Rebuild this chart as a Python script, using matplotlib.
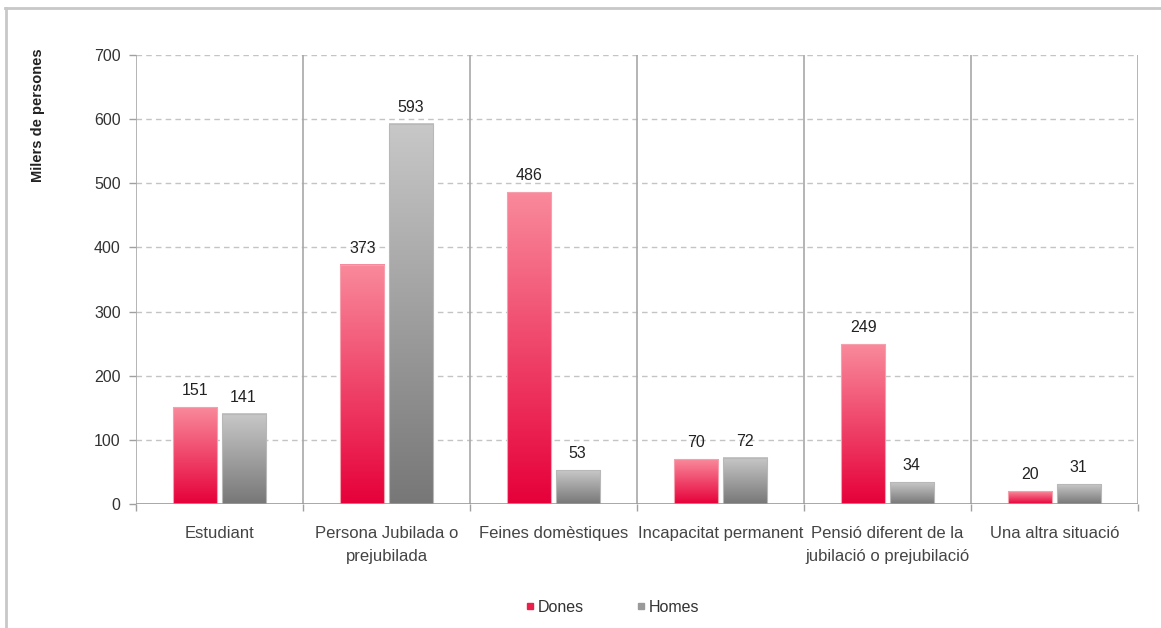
import numpy as np
import matplotlib
matplotlib.use("Agg")
import matplotlib.pyplot as plt
from matplotlib.colors import LinearSegmentedColormap
from matplotlib.lines import Line2D

plt.rcParams['font.family'] = ['Liberation Sans Narrow', 'Liberation Sans', 'DejaVu Sans']

categories = ["Estudiant", "Persona Jubilada o\nprejubilada", "Feines domèstiques",
              "Incapacitat permanent", "Pensió diferent de la\njubilació o prejubilació",
              "Una altra situació"]
dones = [151, 373, 486, 70, 249, 20]
homes = [141, 593, 53, 72, 34, 31]
series_names = ["Dones", "Homes"]
yticks = [0, 100, 200, 300, 400, 500, 600, 700]

fig = plt.figure(figsize=(11.61, 6.28), dpi=100)
ax = fig.add_axes([136/1161, 1 - 504/628, (1138 - 136)/1161, (504 - 55)/628])

cmap_d = LinearSegmentedColormap.from_list("d", ["#e6003a", "#f98a9b"])
cmap_h = LinearSegmentedColormap.from_list("h", ["#777777", "#c8c8c8"])
grad = np.linspace(0, 1, 256).reshape(-1, 1)

x = np.arange(len(categories))
w = 0.264
off = 0.144

for vals, dx, cmap, edge in [(dones, -off, cmap_d, "#f7a0ad"), (homes, off, cmap_h, "#b8b8b8")]:
    for xi, v in zip(x, vals):
        x0, x1 = xi + dx - w/2, xi + dx + w/2
        ax.imshow(grad, extent=[x0, x1, 0, v], origin="lower", cmap=cmap,
                  aspect="auto", zorder=3, interpolation="bilinear")
        ax.add_patch(plt.Rectangle((x0, 0), w, v, fill=False, edgecolor=edge,
                                   linewidth=0.8, zorder=4))
        ax.text(xi + dx, v + 14, str(v), ha="center", va="bottom",
                fontsize=11.5, color="#222222", zorder=5)

ax.set_xlim(-0.5, len(categories) - 0.5)
ax.set_ylim(0, 700)

# dashed horizontal grid
for yv in yticks[1:]:
    ax.axhline(yv, color="#c4c4c4", linestyle=(0, (4, 3)), linewidth=1.0, zorder=1)

# category separators
for b in np.arange(-0.5, len(categories), 1.0):
    ax.axvline(b, color="#a8a8a8", linewidth=1.2, zorder=2)

for s in ax.spines.values():
    s.set_visible(False)
ax.axhline(0, color="#9a9a9a", linewidth=1.2, zorder=6)

ax.set_yticks(yticks)
ax.set_yticklabels([str(t) for t in yticks], fontsize=11.5, color="#333333")
ax.tick_params(axis="y", length=5, width=1, color="#a0a0a0", pad=6)

ax.set_xticks(np.arange(-0.5, len(categories), 1.0), minor=False)
ax.set_xticklabels([])
ax.tick_params(axis="x", which="major", length=5, width=1, color="#a0a0a0")
ax.set_xticks(x, minor=True)
ax.set_xticklabels(categories, minor=True, fontsize=12, color="#444444", linespacing=1.65)
ax.tick_params(axis="x", which="minor", length=0, pad=16)

fig.text(38/1161, 1 - 115/628, "Milers de persones", rotation=90, ha="center", va="center",
         fontsize=10.5, fontweight="bold", color="#222222")

handles = [Line2D([], [], marker="s", linestyle="", markersize=3.8,
                  markerfacecolor="#e8204a", markeredgecolor="#e8204a"),
           Line2D([], [], marker="s", linestyle="", markersize=3.8,
                  markerfacecolor="#9a9a9a", markeredgecolor="#9a9a9a")]
fig.legend(handles, series_names, loc="center", bbox_to_anchor=(613/1161, 1 - 607/628),
           ncol=2, frameon=False, fontsize=11.5, handlelength=0.4, handletextpad=0.3,
           columnspacing=3.4, labelcolor="#333333")

# outer frame lines
fig.add_artist(Line2D([5/1161, 1], [1 - 8/628, 1 - 8/628], color="#c8c8c8", linewidth=2.0,
                      transform=fig.transFigure))
fig.add_artist(Line2D([6/1161, 6/1161], [0, 1 - 8/628], color="#c8c8c8", linewidth=2.0,
                      transform=fig.transFigure))

fig.savefig("out.png", dpi=100, facecolor="white")
